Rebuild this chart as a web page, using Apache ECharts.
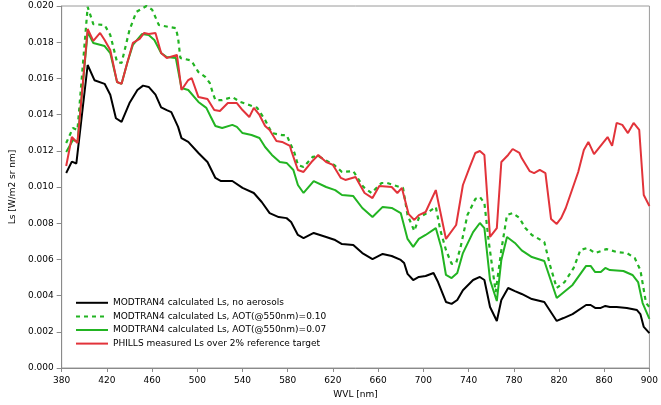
<!DOCTYPE html>
<html>
<head>
<meta charset="utf-8">
<script src="https://cdn.jsdelivr.net/npm/echarts@6/dist/echarts.min.js"></script>
<style>
  html, body { margin: 0; padding: 0; background: #fff; }
  #chart { width: 661px; height: 405px; }
</style>
</head>
<body>
<div id="chart"></div>
<script>
// wavelengths [nm] and Ls values
const wlNoAer = [384, 389, 393, 403, 409, 418, 423, 428, 433, 440, 447, 452, 457, 463, 468, 473, 477, 483, 486, 492, 501, 509, 516, 521, 531, 540, 550, 557, 564, 572, 579, 583, 589, 594, 603, 614, 622, 628, 638, 646, 655, 664, 672, 680, 683, 686, 691, 696, 702, 709, 713, 720, 725, 730, 735, 744, 750, 754, 759, 765, 769, 775, 781, 787, 796, 807, 818, 824, 832, 844, 848, 852, 857, 861, 865, 871, 880, 889, 892, 895, 900];
const lsNoAer = [0.01077, 0.0114, 0.0113, 0.01674, 0.0159, 0.0157, 0.0151, 0.0138, 0.0136, 0.01464, 0.01536, 0.0156, 0.01553, 0.0151, 0.0144, 0.01425, 0.01414, 0.01332, 0.0127, 0.01249, 0.01188, 0.01138, 0.0105, 0.01033, 0.01033, 0.00995, 0.00967, 0.00917, 0.00856, 0.00834, 0.00828, 0.00807, 0.00735, 0.00718, 0.00746, 0.00724, 0.00707, 0.00685, 0.0068, 0.00635, 0.00602, 0.0063, 0.00619, 0.00597, 0.0058, 0.0052, 0.00486, 0.00503, 0.00508, 0.00525, 0.00475, 0.00365, 0.00354, 0.00376, 0.0043, 0.00486, 0.00503, 0.00486, 0.00337, 0.0026, 0.00376, 0.00442, 0.00425, 0.00409, 0.00381, 0.00365, 0.0026, 0.00276, 0.00298, 0.00348, 0.00348, 0.00332, 0.00332, 0.00343, 0.00337, 0.00337, 0.00332, 0.0032, 0.00298, 0.00227, 0.00193];

const wlAot10 = [384, 390, 394, 403, 408, 418, 423, 429, 433, 440, 446, 455, 460, 466, 475, 481, 483, 485, 494, 496, 501, 507, 511, 514, 516, 522, 531, 538, 546, 553, 560, 566, 575, 579, 586, 589, 594, 602, 607, 621, 628, 638, 647, 654, 663, 668, 679, 682, 686, 692, 696, 703, 711, 715, 720, 725, 729, 733, 739, 746, 750, 754, 758, 764, 769, 774, 779, 785, 790, 796, 807, 812, 818, 825, 833, 839, 845, 852, 862, 871, 880, 887, 892, 897, 900];
const lsAot10 = [0.01243, 0.01326, 0.01315, 0.01995, 0.019, 0.01895, 0.0184, 0.0169, 0.01685, 0.01867, 0.01967, 0.0200, 0.0198, 0.01895, 0.01884, 0.01878, 0.01823, 0.01713, 0.017, 0.01685, 0.01635, 0.01608, 0.01575, 0.01514, 0.0148, 0.0148, 0.01497, 0.0147, 0.01453, 0.01437, 0.0137, 0.01298, 0.01287, 0.01287, 0.01188, 0.01122, 0.0111, 0.01166, 0.01171, 0.01122, 0.01083, 0.01088, 0.0100, 0.00967, 0.01022, 0.01022, 0.0100, 0.00995, 0.00845, 0.00757, 0.00829, 0.00856, 0.0089, 0.00762, 0.00652, 0.00575, 0.0058, 0.00669, 0.00845, 0.00934, 0.00945, 0.00912, 0.00691, 0.0042, 0.00652, 0.00845, 0.00856, 0.00829, 0.00775, 0.00735, 0.00696, 0.00569, 0.00442, 0.00475, 0.00553, 0.00652, 0.00663, 0.00635, 0.00657, 0.00641, 0.00635, 0.00608, 0.00541, 0.00359, 0.00337];

const wlAot07 = [384, 390, 394, 403, 408, 418, 423, 429, 433, 438, 443, 451, 457, 462, 468, 473, 481, 486, 492, 501, 508, 512, 516, 522, 531, 535, 540, 548, 555, 560, 566, 573, 579, 585, 589, 594, 603, 614, 622, 628, 638, 646, 655, 664, 672, 680, 686, 691, 696, 702, 711, 716, 720, 725, 730, 735, 744, 750, 754, 759, 765, 769, 774, 781, 787, 796, 807, 818, 832, 844, 848, 852, 857, 861, 865, 877, 885, 890, 894, 900];
const lsAot07 = [0.01193, 0.0126, 0.0125, 0.01856, 0.01796, 0.01779, 0.0174, 0.0158, 0.0157, 0.01685, 0.01785, 0.01845, 0.0184, 0.01812, 0.0174, 0.01718, 0.01713, 0.01547, 0.01536, 0.0147, 0.01437, 0.01387, 0.01337, 0.01326, 0.01343, 0.01332, 0.01298, 0.01287, 0.01271, 0.01221, 0.01177, 0.01138, 0.01133, 0.01094, 0.01011, 0.00967, 0.01033, 0.0100, 0.00983, 0.00956, 0.0095, 0.00884, 0.00834, 0.0089, 0.00884, 0.00856, 0.00713, 0.00669, 0.00713, 0.00735, 0.00773, 0.00663, 0.00514, 0.00497, 0.00525, 0.00635, 0.00751, 0.00801, 0.00773, 0.00486, 0.0037, 0.00597, 0.00724, 0.00691, 0.0065, 0.00613, 0.00591, 0.00387, 0.00459, 0.00564, 0.00564, 0.0053, 0.0053, 0.00553, 0.00541, 0.00536, 0.00514, 0.00475, 0.00359, 0.00271];

const wlPhills = [384, 389, 394, 403, 408, 414, 418, 423, 429, 433, 438, 443, 449, 453, 457, 463, 468, 473, 482, 486, 492, 495, 501, 509, 515, 520, 527, 535, 540, 546, 550, 555, 560, 564, 570, 575, 582, 583, 589, 594, 601, 607, 614, 620, 627, 631, 640, 648, 655, 661, 672, 677, 681, 687, 692, 696, 702, 711, 720, 729, 735, 741, 746, 750, 754, 759, 765, 769, 775, 779, 785, 787, 794, 798, 803, 808, 813, 818, 822, 826, 837, 842, 846, 851, 863, 867, 871, 876, 881, 886, 891, 895, 900];
const lsPhills = [0.01116, 0.01276, 0.01243, 0.01873, 0.01807, 0.01851, 0.01812, 0.01757, 0.0158, 0.0157, 0.01685, 0.01796, 0.01818, 0.01851, 0.01845, 0.01851, 0.0174, 0.01713, 0.0173, 0.01536, 0.01591, 0.01602, 0.01497, 0.01486, 0.01425, 0.0142, 0.01464, 0.01464, 0.01425, 0.01387, 0.01437, 0.01398, 0.01337, 0.01315, 0.01254, 0.01249, 0.01227, 0.01204, 0.01094, 0.01083, 0.01138, 0.01177, 0.01138, 0.01122, 0.0105, 0.01039, 0.01055, 0.00967, 0.00939, 0.01006, 0.0100, 0.00967, 0.00995, 0.0085, 0.00818, 0.00845, 0.00862, 0.00983, 0.00713, 0.0079, 0.01011, 0.0111, 0.01188, 0.01199, 0.01177, 0.00724, 0.00773, 0.01138, 0.01177, 0.0121, 0.01188, 0.0116, 0.01088, 0.01077, 0.01094, 0.01077, 0.00823, 0.00796, 0.00829, 0.00884, 0.01083, 0.01204, 0.01249, 0.01182, 0.01276, 0.01227, 0.01354, 0.01343, 0.01298, 0.01354, 0.01315, 0.00956, 0.00895];

const seriesNames = [
  'MODTRAN4 calculated Ls, no aerosols',
  'MODTRAN4 calculated Ls, AOT(@550nm)=0.10',
  'MODTRAN4 calculated Ls, AOT(@550nm)=0.07',
  'PHILLS measured Ls over 2% reference target'
];

const font = 'DejaVu Sans, Verdana, sans-serif';
const pairs = (xs, ys) => xs.map((x, i) => [x, ys[i]]);

const chart = echarts.init(document.getElementById('chart'));

function line(name, xs, ys, color, type, width) {
  return {
    name: name,
    type: 'line',
    data: pairs(xs, ys),
    showSymbol: false,
    symbol: 'none',
    animation: false,
    lineStyle: { color: color, width: width, type: type },
    itemStyle: { color: color }
  };
}

chart.setOption({
  animation: false,
  grid: {
    left: 56, right: 6, top: 6, bottom: 37,
    show: true, borderColor: '#9a9a9a', borderWidth: 1
  },
  legend: {
    orient: 'vertical',
    left: 70,
    top: 293,
    itemWidth: 32,
    itemHeight: 12,
    itemGap: 4,
    itemStyle: { opacity: 0 },   // hide the circle, keep the line
    data: seriesNames,
    textStyle: { fontFamily: font, fontSize: 9, color: '#000' }
  },
  xAxis: {
    type: 'value',
    min: 380, max: 900, interval: 40,
    name: 'WVL [nm]',
    nameLocation: 'middle',
    nameGap: 21,
    nameTextStyle: { fontFamily: font, fontSize: 9, color: '#000' },
    axisLine: { show: true, lineStyle: { color: '#8a8a8a', width: 1 } },
    axisTick: { show: true, length: 4, lineStyle: { color: '#8a8a8a' } },
    axisLabel: { fontFamily: font, fontSize: 9, color: '#000', margin: 8 },
    splitLine: { show: false }
  },
  yAxis: {
    type: 'value',
    min: 0, max: 0.02, interval: 0.002,
    name: 'Ls [W/m2 sr nm]',
    nameLocation: 'middle',
    nameGap: 44,
    nameTextStyle: { fontFamily: font, fontSize: 9, color: '#000' },
    axisLine: { show: true, lineStyle: { color: '#8a8a8a', width: 1 } },
    axisTick: { show: true, length: 5, lineStyle: { color: '#8a8a8a' } },
    axisLabel: {
      fontFamily: font, fontSize: 9, color: '#000', margin: 8,
      formatter: v => v.toFixed(3)
    },
    splitLine: { show: false }
  },
  series: [
    line(seriesNames[0], wlNoAer, lsNoAer, '#000000', 'solid', 2),
    line(seriesNames[1], wlAot10, lsAot10, '#22b422', [4, 4], 2.2),
    line(seriesNames[2], wlAot07, lsAot07, '#22b422', 'solid', 2),
    line(seriesNames[3], wlPhills, lsPhills, '#e2333a', 'solid', 2)
  ]
});
</script>
</body>
</html>
